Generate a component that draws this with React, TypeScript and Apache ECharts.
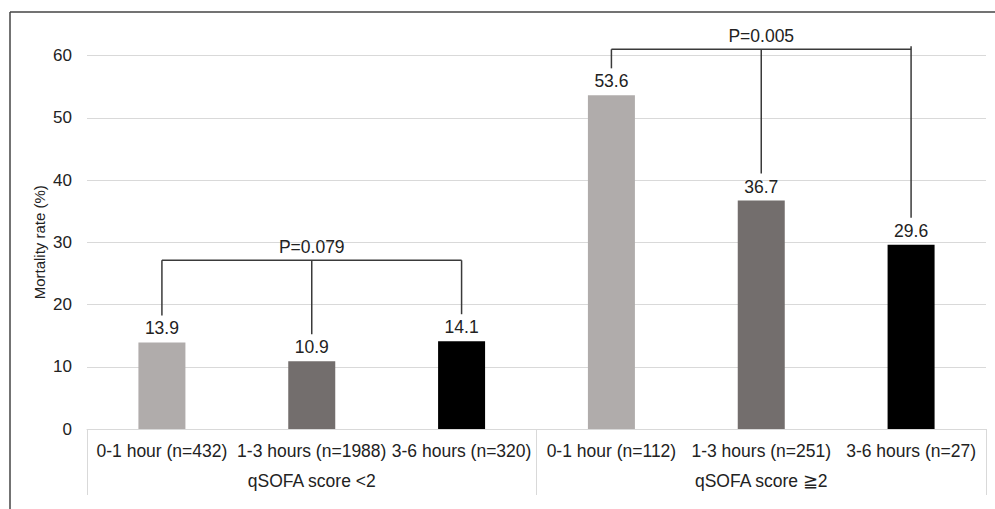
import React, { useEffect, useRef } from "react";
import * as echarts from "echarts";

const categories = [
  "0-1 hour (n=432)",
  "1-3 hours (n=1988)",
  "3-6 hours (n=320)",
  "0-1 hour (n=112)",
  "1-3 hours (n=251)",
  "3-6 hours (n=27)",
];
const mortality = [13.9, 10.9, 14.1, 53.6, 36.7, 29.6];
const groupLabels = ["qSOFA score <2", "qSOFA score ≧2"];
const barColors = ["#B0ACAB", "#736E6D", "#000000"];
const yTicks = { min: 0, max: 60, interval: 10 };
const bracketStarts = [0, 3];
const bracketLevels = [27.1, 61.0];
const bracketLabels = ["P=0.079", "P=0.005"];

const FONT = "'Liberation Sans', Arial, sans-serif";

export default function App() {
  const ref = useRef<HTMLDivElement>(null);
  useEffect(() => {
    document.body.style.margin = "0";
    const chart = echarts.init(ref.current!, null, { renderer: "svg" });
    const option: any = {
      animation: false,
      backgroundColor: "#ffffff",
      textStyle: { fontFamily: FONT },
      grid: { left: 87, right: 9, top: 55.5, bottom: 80, containLabel: false },
      xAxis: [
        {
          type: "category",
          data: categories,
          position: "bottom",
          axisLine: { show: true, lineStyle: { color: "#d9d9d9", width: 1 } },
          axisTick: { show: false },
          axisLabel: { interval: 0, fontSize: 17.5, color: "#222", margin: 13, fontFamily: FONT },
        },
        {
          type: "category",
          data: groupLabels,
          position: "bottom",
          axisLine: { show: false },
          axisTick: { show: true, length: 66, lineStyle: { color: "#d9d9d9", width: 1 } },
          axisLabel: { interval: 0, fontSize: 17.5, color: "#222", margin: 43, fontFamily: FONT },
        },
      ],
      yAxis: {
        type: "value",
        min: yTicks.min,
        max: yTicks.max,
        interval: yTicks.interval,
        name: "Mortality rate (%)",
        nameLocation: "middle",
        nameRotate: 90,
        nameGap: 40,
        nameMoveOverlap: false,
        nameTextStyle: { fontSize: 15, color: "#222", fontFamily: FONT },
        axisLine: { show: false },
        axisTick: { show: false },
        axisLabel: { fontSize: 17, color: "#222", margin: 15, fontFamily: FONT },
        splitLine: { lineStyle: { color: "#d9d9d9", width: 1 } },
      },
      series: [
        {
          type: "bar",
          xAxisIndex: 0,
          barWidth: 47,
          data: mortality.map((v, i) => ({
            value: v,
            itemStyle: { color: barColors[i % 3] },
          })),
          label: {
            show: true,
            position: "top",
            distance: 5,
            fontSize: 17.5,
            color: "#222",
            fontFamily: FONT,
            formatter: (p: any) => p.value.toFixed(1),
          },
        },
        {
          type: "custom",
          xAxisIndex: 0,
          clip: false,
          data: bracketStarts.map((s, i) => [s, bracketLevels[i]]),
          encode: { x: 0, y: 1 },
          renderItem: (params: any, api: any) => {
            const i = params.dataIndex;
            const start = bracketStarts[i];
            const level = bracketLevels[i];
            const topY = api.coord([start, level])[1];
            const children: any[] = [];
            const xs: number[] = [];
            const lineStyle = { stroke: "#3a3a3a", lineWidth: 1.5, fill: null };
            for (let k = 0; k < 3; k++) {
              const idx = start + k;
              const pt = api.coord([idx, mortality[idx]]);
              xs.push(pt[0]);
              const y0 = k === 2 && i === 1 ? topY - 3 : topY;
              children.push({
                type: "line",
                shape: { x1: pt[0], y1: y0, x2: pt[0], y2: pt[1] - 27 },
                style: lineStyle,
              });
            }
            children.push({
              type: "line",
              shape: { x1: xs[0], y1: topY, x2: xs[2], y2: topY },
              style: lineStyle,
            });
            children.push({
              type: "text",
              style: {
                text: bracketLabels[i],
                x: xs[1],
                y: topY - 4,
                align: "center",
                verticalAlign: "bottom",
                fontSize: 17.5,
                fontFamily: FONT,
                fill: "#222",
              },
            });
            return { type: "group", children };
          },
        },
      ],
      graphic: [
        {
          type: "line",
          shape: { x1: 10, y1: 12, x2: 995, y2: 12 },
          style: { stroke: "#444", lineWidth: 1.5 },
        },
        {
          type: "line",
          shape: { x1: 10, y1: 12, x2: 10, y2: 509 },
          style: { stroke: "#444", lineWidth: 1.5 },
        },
      ],
    };
    chart.setOption(option);
    return () => chart.dispose();
  }, []);
  return <div ref={ref} style={{ width: 995, height: 509 }} />;
}
